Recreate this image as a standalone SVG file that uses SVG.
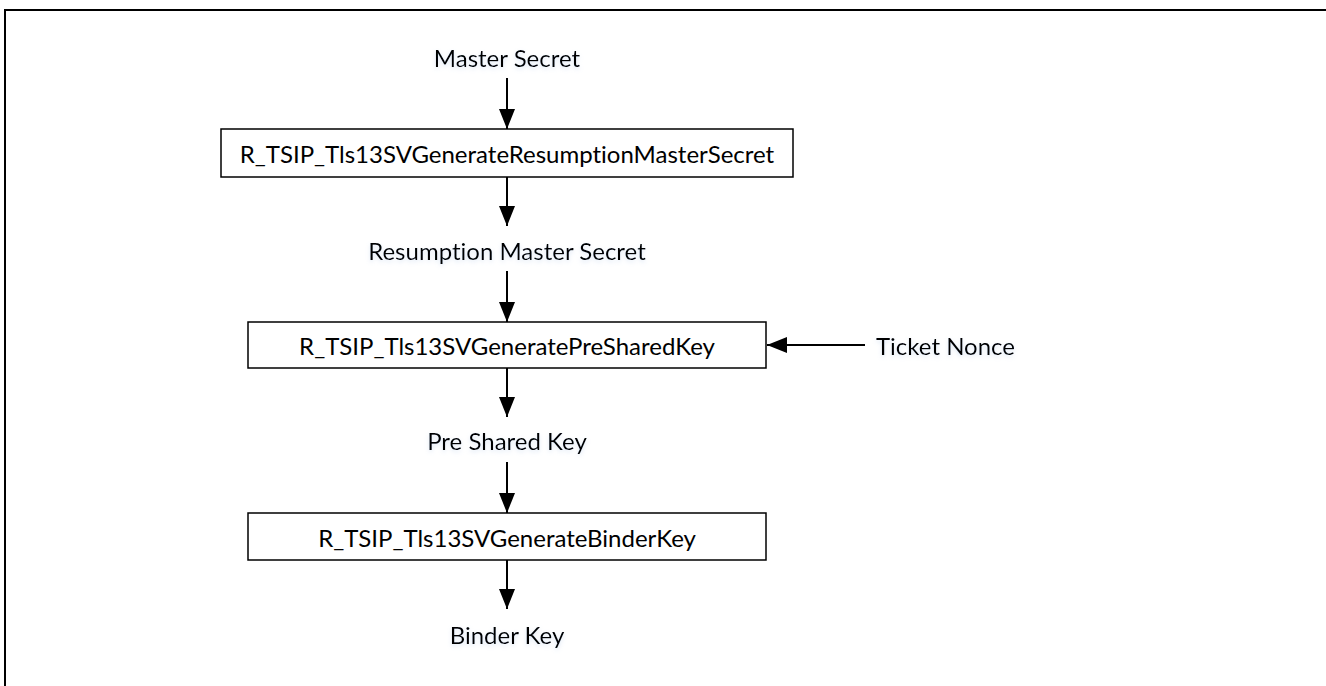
<svg xmlns="http://www.w3.org/2000/svg" width="1326" height="686" viewBox="0 0 1326 686">
<defs>
<marker id="arr" viewBox="0 0 20 16" refX="20" refY="8" markerWidth="20" markerHeight="16" markerUnits="userSpaceOnUse" orient="auto">
<path d="M0,0 L20,8 L0,16 Z" fill="#000"/>
</marker>
<filter id="glow" x="-10%" y="-30%" width="120%" height="160%">
<feGaussianBlur in="SourceAlpha" stdDeviation="2" result="b"/>
<feOffset in="b" dx="0" dy="2" result="o"/>
<feFlood flood-color="#9bb8e0" flood-opacity="0.35"/>
<feComposite in2="o" operator="in" result="s"/>
<feMerge><feMergeNode in="s"/><feMergeNode in="SourceGraphic"/></feMerge>
</filter>
</defs>
<style>
.frame{fill:none;stroke:#000;stroke-width:2}
.box{fill:#fff;stroke:#000;stroke-width:1.5}
.t{font-family:Lato,"Open Sans","Liberation Sans",sans-serif;font-size:24px;fill:#000;text-anchor:middle;dominant-baseline:central;font-variant-ligatures:none}
.lbl{filter:url(#glow)}
.c{stroke:#000;stroke-width:2;fill:none;marker-end:url(#arr)}
</style>
<rect width="1326" height="686" fill="#fff"/>
<rect class="frame" x="5" y="10" width="1340" height="700"/>
<g id="connectors">
<line class="c" x1="507" y1="78" x2="507" y2="129"/>
<line class="c" x1="507" y1="177" x2="507" y2="226"/>
<line class="c" x1="507" y1="271" x2="507" y2="322"/>
<line class="c" x1="507" y1="368" x2="507" y2="417"/>
<line class="c" x1="507" y1="462" x2="507" y2="513"/>
<line class="c" x1="507" y1="560" x2="507" y2="609"/>
<line class="c" x1="865" y1="345" x2="767" y2="345"/>
</g>
<g id="master-secret"><text class="t lbl" x="507" y="57">Master Secret</text></g>
<g id="gen-rms">
<rect class="box" x="221" y="129" width="572" height="48"/>
<text class="t" x="507" y="153">R_TSIP_Tls13SVGenerateResumptionMasterSecret</text>
</g>
<g id="resumption-master-secret"><text class="t lbl" x="507" y="250">Resumption Master Secret</text></g>
<g id="gen-psk">
<rect class="box" x="248" y="322" width="518" height="46"/>
<text class="t" x="507" y="345">R_TSIP_Tls13SVGeneratePreSharedKey</text>
</g>
<g id="ticket-nonce"><text class="t lbl" x="876" y="345" style="text-anchor:start">Ticket Nonce</text></g>
<g id="pre-shared-key"><text class="t lbl" x="507" y="440">Pre Shared Key</text></g>
<g id="gen-binder">
<rect class="box" x="248" y="513" width="518" height="47"/>
<text class="t" x="507" y="537">R_TSIP_Tls13SVGenerateBinderKey</text>
</g>
<g id="binder-key"><text class="t lbl" x="507" y="634">Binder Key</text></g>
</svg>
